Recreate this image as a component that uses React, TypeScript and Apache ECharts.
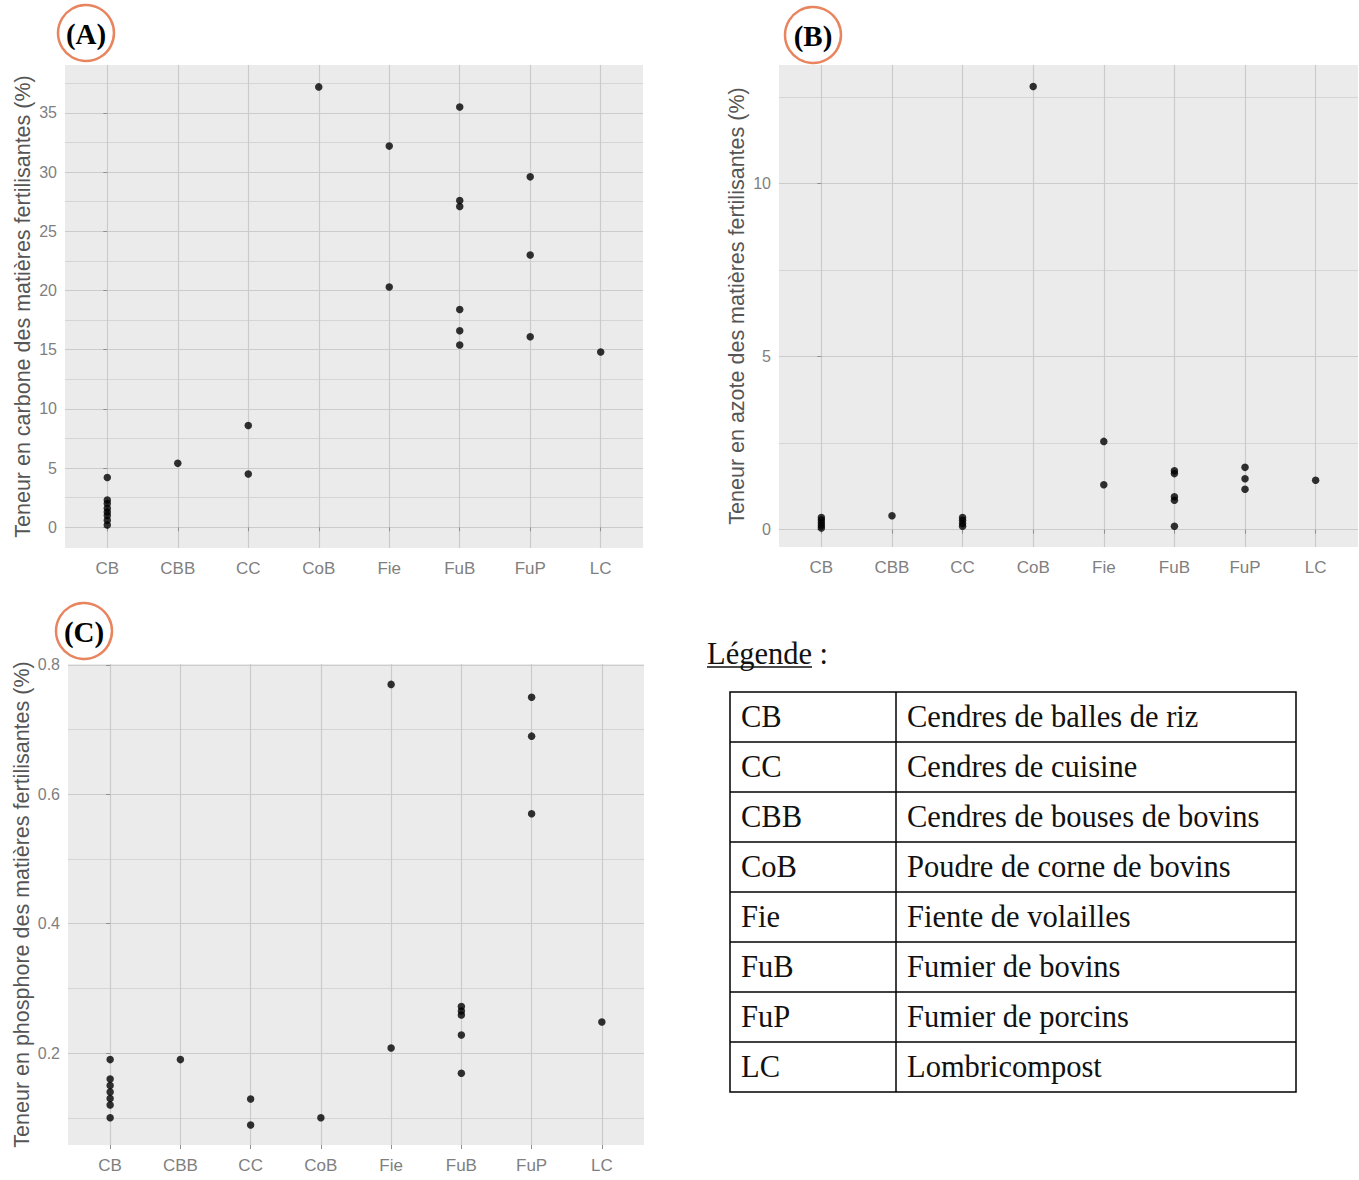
import React, { useEffect, useRef } from 'react';
import * as echarts from 'echarts';

// ---- data ----
const categories = ['CB', 'CBB', 'CC', 'CoB', 'Fie', 'FuB', 'FuP', 'LC'];

// one inner array per category, in the order of `categories`
const carbonValues = [
  [4.2, 2.3, 2.0, 1.6, 1.3, 1.0, 0.6, 0.2],
  [5.4],
  [8.6, 4.5],
  [37.2],
  [32.2, 20.3],
  [35.5, 27.6, 27.1, 18.4, 16.6, 15.4],
  [29.6, 23.0, 16.1],
  [14.8],
];
const nitrogenValues = [
  [0.35, 0.28, 0.2, 0.12, 0.05],
  [0.4],
  [0.35, 0.27, 0.18, 0.1],
  [12.8],
  [2.55, 1.3],
  [1.7, 1.62, 0.95, 0.85, 0.1],
  [1.8, 1.47, 1.17],
  [1.43],
];
const phosphorusValues = [
  [0.19, 0.16, 0.15, 0.14, 0.13, 0.12, 0.1],
  [0.19],
  [0.129, 0.089],
  [0.1],
  [0.77, 0.208],
  [0.272, 0.265, 0.259, 0.228, 0.169],
  [0.75, 0.69, 0.57],
  [0.248],
];

const carbonBreaks = [0, 5, 10, 15, 20, 25, 30, 35];
const nitrogenBreaks = [0, 5, 10];
const phosphorusBreaks = [0.2, 0.4, 0.6, 0.8];

const axisTitles = [
  'Teneur en carbone des matières fertilisantes (%)',
  'Teneur en azote des matières fertilisantes (%)',
  'Teneur en phosphore des matières fertilisantes (%)',
];
const panelLetters = ['(A)', '(B)', '(C)'];

const legendTitle = 'Légende';
const legendCodes = ['CB', 'CC', 'CBB', 'CoB', 'Fie', 'FuB', 'FuP', 'LC'];
const legendNames = [
  'Cendres de balles de riz',
  'Cendres de cuisine',
  'Cendres de bouses de bovins',
  'Poudre de corne de bovins',
  'Fiente de volailles',
  'Fumier de bovins',
  'Fumier de porcins',
  'Lombricompost',
];

// ---- layout / style ----
const SANS = '"Liberation Sans", Arial, sans-serif';
const SERIF = '"Liberation Serif", "Times New Roman", serif';
const PANEL_BG = '#ebebeb';
const GRID_MAJOR = '#cbcbcb';
const GRID_MINOR = '#d3d3d3';
const TICK_COLOR = '#8f8f8f';
const TICK_LABEL = '#7f7f7f';
const TITLE_COLOR = '#555555';

const panels = [
  { grid: { left: 65, top: 65, width: 578, height: 483 }, yMin: -1.75, yMax: 39.05, split: 8, breaks: carbonBreaks, values: carbonValues, nameGap: 31, badge: [86, 33] },
  { grid: { left: 779, top: 65, width: 579, height: 482 }, yMin: -0.5, yMax: 13.42, split: 3, breaks: nitrogenBreaks, values: nitrogenValues, nameGap: 31, badge: [813, 35] },
  { grid: { left: 68, top: 664, width: 576, height: 481 }, yMin: 0.058, yMax: 0.8015, split: 4, breaks: phosphorusBreaks, values: phosphorusValues, nameGap: 35, badge: [84, 631] },
];

const xPositions = categories.map((_, i) => i);

function measure(text: string, font: string): number {
  const c = document.createElement('canvas').getContext('2d');
  if (!c) return text.length * 14;
  c.font = font;
  return c.measureText(text).width;
}

export default function App() {
  const ref = useRef<HTMLDivElement>(null);

  useEffect(() => {
    document.body.style.margin = '0';
    if (!ref.current) return;
    const chart = echarts.init(ref.current, undefined, { renderer: 'svg' });

    const grids = panels.map((p) => ({
      ...p.grid,
      show: true,
      backgroundColor: PANEL_BG,
      borderWidth: 0,
      containLabel: false,
    }));

    const xAxes = panels.map((p, i) => ({
      type: 'value',
      gridIndex: i,
      min: -0.6,
      max: 7.6,
      axisLine: { show: false },
      axisTick: { show: true, length: 4, lineStyle: { color: TICK_COLOR, width: 1 }, customValues: xPositions },
      axisLabel: {
        customValues: xPositions,
        formatter: (v: number) => categories[Math.round(v)] ?? '',
        color: TICK_LABEL,
        fontSize: 17,
        fontFamily: SANS,
        margin: 12,
      },
      splitLine: { show: true, lineStyle: { color: GRID_MAJOR, width: 1.2 } },
      minorSplitLine: { show: false },
    }));

    const yAxes = panels.map((p, i) => ({
      type: 'value',
      gridIndex: i,
      min: p.yMin,
      max: p.yMax,
      splitNumber: p.split,
      name: axisTitles[i],
      nameLocation: 'middle',
      nameGap: p.nameGap,
      nameTextStyle: { fontSize: 21.5, color: TITLE_COLOR, fontFamily: SANS },
      axisLine: { show: false },
      axisTick: { show: true, length: 4, lineStyle: { color: TICK_COLOR, width: 1 }, customValues: p.breaks },
      axisLabel: { customValues: p.breaks, color: TICK_LABEL, fontSize: 16, fontFamily: SANS, margin: 8 },
      splitLine: { show: true, lineStyle: { color: GRID_MAJOR, width: 1.2 } },
      minorTick: { show: false, splitNumber: 2 },
      minorSplitLine: { show: true, lineStyle: { color: GRID_MINOR, width: 0.9 } },
    }));

    const series = panels.map((p, i) => ({
      type: 'scatter',
      xAxisIndex: i,
      yAxisIndex: i,
      symbol: 'circle',
      symbolSize: 7.5,
      itemStyle: { color: '#000' },
      data: p.values.flatMap((arr, ci) => arr.map((v) => [ci, v])),
      silent: true,
      z: 3,
    }));

    const graphics: any[] = [];
    panels.forEach((p, i) => {
      graphics.push({
        type: 'circle',
        z: 100,
        shape: { cx: p.badge[0], cy: p.badge[1], r: 28 },
        style: { fill: '#fff', stroke: '#e8845e', lineWidth: 2.5 },
      });
      graphics.push({
        type: 'text',
        z: 101,
        x: p.badge[0],
        y: p.badge[1] + 1,
        style: { text: panelLetters[i], font: `bold 29px ${SERIF}`, fill: '#000', align: 'center', verticalAlign: 'middle' },
      });
    });

    // legend
    const legendFont = `30.5px ${SERIF}`;
    const lx = 707;
    const ly = 654;
    const lw = measure(legendTitle, legendFont);
    graphics.push({
      type: 'text', z: 100, x: lx, y: ly,
      style: { text: legendTitle, font: legendFont, fill: '#111', align: 'left', verticalAlign: 'middle' },
    });
    graphics.push({
      type: 'line', z: 100,
      shape: { x1: lx, y1: ly + 13, x2: lx + lw, y2: ly + 13 },
      style: { stroke: '#111', lineWidth: 1.3 },
    });
    graphics.push({
      type: 'text', z: 100, x: lx + lw, y: ly,
      style: { text: ' :', font: legendFont, fill: '#111', align: 'left', verticalAlign: 'middle' },
    });

    const tx = 730, ty = 692, tw = 566, rowH = 50, colX = 896;
    const th = rowH * legendCodes.length;
    graphics.push({
      type: 'rect', z: 100,
      shape: { x: tx, y: ty, width: tw, height: th },
      style: { fill: 'none', stroke: '#000', lineWidth: 1.5 },
    });
    for (let r = 1; r < legendCodes.length; r++) {
      graphics.push({
        type: 'line', z: 100,
        shape: { x1: tx, y1: ty + r * rowH, x2: tx + tw, y2: ty + r * rowH },
        style: { stroke: '#000', lineWidth: 1.5 },
      });
    }
    graphics.push({
      type: 'line', z: 100,
      shape: { x1: colX, y1: ty, x2: colX, y2: ty + th },
      style: { stroke: '#000', lineWidth: 1.5 },
    });
    legendCodes.forEach((code, r) => {
      const cy = ty + r * rowH + rowH / 2;
      graphics.push({
        type: 'text', z: 101, x: tx + 11, y: cy,
        style: { text: code, font: legendFont, fill: '#111', align: 'left', verticalAlign: 'middle' },
      });
      graphics.push({
        type: 'text', z: 101, x: colX + 11, y: cy,
        style: { text: legendNames[r], font: legendFont, fill: '#111', align: 'left', verticalAlign: 'middle' },
      });
    });

    chart.setOption({
      animation: false,
      backgroundColor: '#fff',
      grid: grids,
      xAxis: xAxes,
      yAxis: yAxes,
      series,
      graphic: { elements: graphics },
    });

    return () => chart.dispose();
  }, []);

  return <div ref={ref} style={{ width: 1359, height: 1180 }} />;
}
